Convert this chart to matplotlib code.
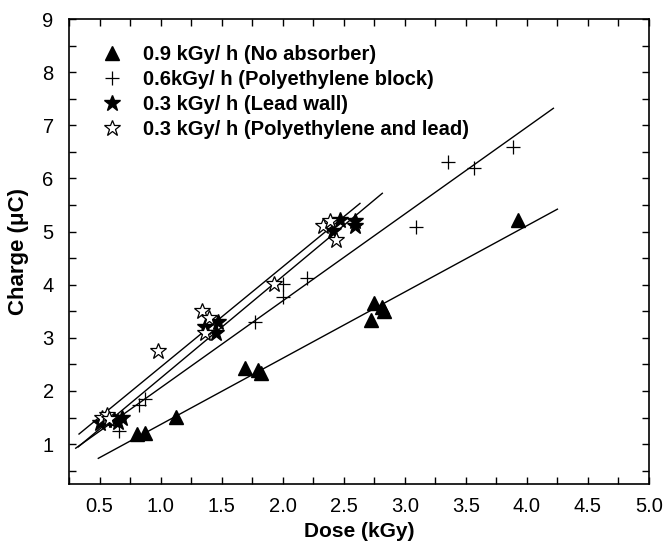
import matplotlib
matplotlib.use("Agg")
import matplotlib.pyplot as plt
import numpy as np
from matplotlib.ticker import MultipleLocator, FormatStrFormatter

plt.rcParams['font.family'] = ['Liberation Sans', 'DejaVu Sans']

# ---- data ----
labels = ["0.9 kGy/ h (No absorber)",
          "0.6kGy/ h (Polyethylene block)",
          "0.3 kGy/ h (Lead wall)",
          "0.3 kGy/ h (Polyethylene and lead)"]

tri_x = [0.81, 0.87, 1.13, 1.69, 1.80, 1.82, 2.72, 2.75, 2.81, 2.83, 3.93]
tri_y = [1.20, 1.21, 1.52, 2.43, 2.40, 2.33, 3.33, 3.66, 3.59, 3.51, 5.22]

plus_x = [0.66, 0.82, 0.87, 1.77, 2.00, 2.00, 2.20, 3.09, 3.35, 3.57, 3.89]
plus_y = [1.24, 1.74, 1.85, 3.30, 4.01, 3.77, 4.13, 5.09, 6.30, 6.20, 6.60]

fstar_x = [0.50, 0.55, 0.62, 0.65, 0.68, 1.36, 1.47, 1.45, 2.41, 2.47, 2.59, 2.59]
fstar_y = [1.40, 1.45, 1.45, 1.42, 1.50, 3.21, 3.30, 3.10, 5.02, 5.22, 5.19, 5.10]

ostar_x = [0.52, 0.56, 0.58, 0.98, 1.34, 1.40, 1.36, 1.93, 2.33, 2.39, 2.44]
ostar_y = [1.50, 1.55, 1.48, 2.75, 3.50, 3.37, 3.10, 4.01, 5.10, 5.20, 4.84]

# fitted lines: slope, intercept, x range
fit_slope = [1.247, 1.635, 1.916, 1.886]
fit_icpt = [0.122, 0.425, 0.325, 0.564]
fit_x0 = [0.49, 0.305, 0.326, 0.332]
fit_x1 = [4.25, 4.217, 2.816, 2.633]

xticks = [0.5, 1.0, 1.5, 2.0, 2.5, 3.0, 3.5, 4.0, 4.5, 5.0]
yticks = [1, 2, 3, 4, 5, 6, 7, 8, 9]

fig = plt.figure(figsize=(6.65, 5.47), dpi=100)
ax = fig.add_axes([69/665, 1-484/547, 580/665, 465/547])

for s, b, x0, x1 in zip(fit_slope, fit_icpt, fit_x0, fit_x1):
    xs = np.array([x0, x1])
    ax.plot(xs, s*xs + b, color='black', lw=1.0, zorder=2)

ax.plot(tri_x, tri_y, ls='none', marker='^', ms=10.5, color='black', label=labels[0], zorder=3)
ax.plot(plus_x, plus_y, ls='none', marker='+', ms=10, mew=0.9, color='black', label=labels[1], zorder=3)
ax.plot(fstar_x, fstar_y, ls='none', marker='*', ms=12, color='black', label=labels[2], zorder=3)
ax.plot(ostar_x, ostar_y, ls='none', marker='*', ms=12, mfc='white', mec='black', mew=0.9, label=labels[3], zorder=3)

ax.set_xlim(0.25, 5.0)
ax.set_ylim(0.25, 9.0)
ax.set_xticks(xticks)
ax.set_yticks(yticks)
ax.xaxis.set_major_formatter(FormatStrFormatter('%.1f'))
ax.xaxis.set_minor_locator(MultipleLocator(0.25))
ax.yaxis.set_minor_locator(MultipleLocator(0.5))
ax.tick_params(which='both', direction='in', top=True, right=True, length=5, width=1.0,
               labelsize=14.5)
ax.tick_params(axis='x', pad=9)
ax.tick_params(axis='y', pad=11)
for sp in ax.spines.values():
    sp.set_linewidth(1.2)

ax.set_xlabel('Dose (kGy)', fontsize=15, fontweight='bold', labelpad=5)
ax.set_ylabel('Charge (\u03bcC)', fontsize=16, fontweight='bold', labelpad=10)

leg = ax.legend(loc='upper left', bbox_to_anchor=(0.056, 0.945), frameon=False,
                prop={'size': 14.5, 'weight': 'bold'}, handlelength=1.0, handletextpad=1.05,
                labelspacing=0.3, borderpad=0, borderaxespad=0, numpoints=1)

fig.savefig('out.png', dpi=100)
